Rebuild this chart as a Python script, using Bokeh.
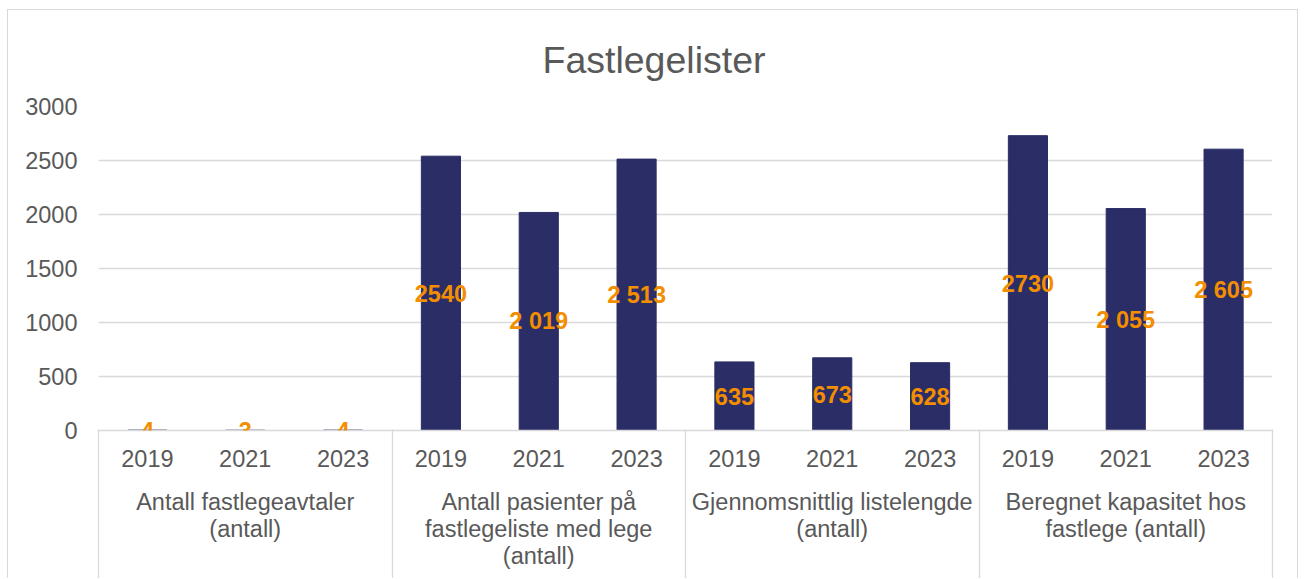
from bokeh.plotting import figure
from bokeh.models import FactorRange, Range1d, FixedTicker, LinearAxis, ColumnDataSource, Label
from bokeh.embed import file_html
from bokeh.resources import INLINE

# ---- data ----
groups = [
    "Antall fastlegeavtaler\n(antall)",
    "Antall pasienter på\nfastlegeliste med lege\n(antall)",
    "Gjennomsnittlig listelengde\n(antall)",
    "Beregnet kapasitet hos\nfastlege (antall)",
]
years = ["2019", "2021", "2023"]
values = [4, 3, 4, 2540, 2019, 2513, 635, 673, 628, 2730, 2055, 2605]
value_labels = ["4", "3", "4", "2540", "2 019", "2 513", "635", "673", "628", "2730", "2 055", "2 605"]
y_ticks = [0, 500, 1000, 1500, 2000, 2500, 3000]
title_text = "Fastlegelister"

FONT = "Liberation Sans"
GREY = "#595959"
LINE = "#D9D9D9"
BAR = "#2B2D66"
ORANGE = "#F28E00"

factors = [(g, y) for g in groups for y in years]
src = ColumnDataSource(dict(
    x=factors,
    top=values,
))

x_range = FactorRange(*factors, factor_padding=0, group_padding=0, subgroup_padding=0, range_padding=0)

p = figure(
    width=1291, height=569,
    x_range=x_range, y_range=Range1d(0, 3000),
    output_backend="svg", toolbar_location=None,
    title=title_text,
    min_border_left=90, min_border_right=27, min_border_top=96, min_border_bottom=149,
)
p.styles = {
    "margin-left": "7px", "margin-top": "9px",
    "border-left": "1px solid #D9D9D9", "border-top": "1px solid #D9D9D9",
    "border-right": "1px solid #D9D9D9",
}

p.title.text_font = FONT
p.title.text_font_size = "37.5px"
p.title.text_font_style = "normal"
p.title.text_color = GREY
p.title.align = "left"
p.title.offset = 444
p.title.standoff = 51

p.outline_line_color = None
p.background_fill_color = "white"
p.border_fill_color = "white"

p.vbar(x="x", top="top", width=0.4, source=src, fill_color=BAR, line_color=BAR)

# data labels, centred in each bar; x is the category's synthetic position on the factor range.
# Labels of near-zero bars sit on the axis line so that the frame does not cut them.
for i, (v, lab) in enumerate(zip(values, value_labels)):
    tiny = v < 150
    p.add_layout(Label(x=i + 0.5, y=v / 2, text=lab, text_font=FONT, text_font_style="bold",
                       text_font_size="23.5px", text_color=ORANGE,
                       text_align="center", text_baseline="alphabetic" if tiny else "middle",
                       level="overlay"))

# y axis
p.yaxis.ticker = FixedTicker(ticks=y_ticks)
p.yaxis.axis_line_color = None
p.yaxis.major_tick_line_color = None
p.yaxis.major_tick_out = 0
p.yaxis.major_tick_in = 0
p.yaxis.minor_tick_line_color = None
p.yaxis.major_label_text_font = FONT
p.yaxis.major_label_text_font_size = "23.5px"
p.yaxis.major_label_text_color = GREY
p.yaxis.major_label_standoff = 21

p.ygrid.ticker = FixedTicker(ticks=y_ticks)
p.ygrid.grid_line_color = LINE
p.ygrid.grid_line_width = 1.3
p.xgrid.grid_line_color = None

# categorical x axis
xa = p.xaxis[0]
xa.axis_line_color = LINE
xa.axis_line_width = 1.3
xa.major_tick_line_color = None
xa.major_tick_out = 0
xa.major_tick_in = 0
xa.separator_line_color = None
xa.major_label_text_font = FONT
xa.major_label_text_font_size = "23.5px"
xa.major_label_text_color = GREY
xa.major_label_standoff = 19
xa.group_text_font = FONT
xa.group_text_font_size = "23.5px"
xa.group_text_font_style = "normal"
xa.group_text_color = GREY
xa.group_text_line_height = 1.04

# separator lines between groups, drawn as long inward ticks of a second axis
# (numeric synthetic positions on the categorical range: group boundaries)
n_per_group = len(years)
boundaries = [i * n_per_group for i in range(len(groups) + 1)]
sep = LinearAxis(ticker=FixedTicker(ticks=boundaries))
sep.axis_line_color = None
sep.major_tick_line_color = LINE
sep.major_tick_line_width = 1.3
sep.major_tick_in = 142
sep.major_tick_out = 8
sep.minor_tick_line_color = None
sep.major_label_overrides = {b: "" for b in boundaries}
sep.major_label_standoff = 0
p.add_layout(sep, "below")

open("out.html", "w").write(file_html(p, INLINE))
